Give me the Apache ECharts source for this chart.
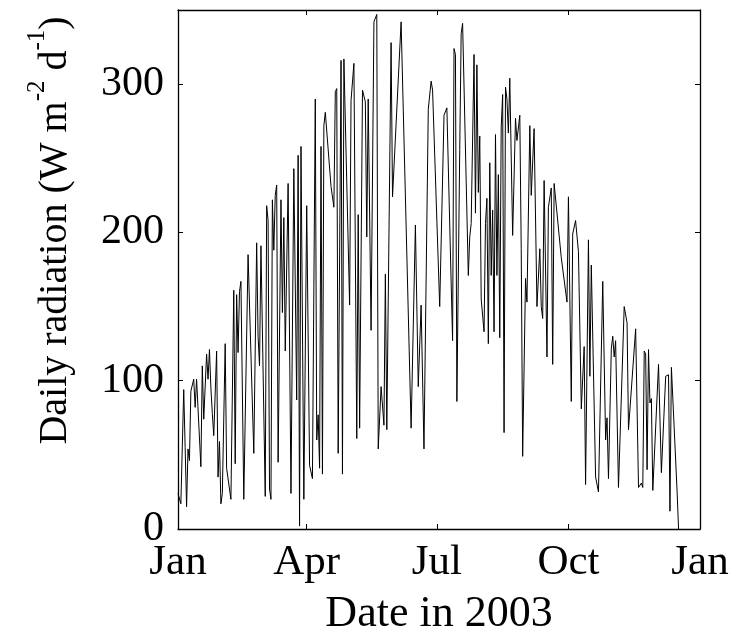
<!DOCTYPE html>
<html>
<head>
<meta charset="utf-8">
<title>Daily radiation 2003</title>
<script src="https://cdn.jsdelivr.net/npm/echarts@6/dist/echarts.min.js"></script>
<style>
  html, body { margin: 0; padding: 0; background: #fff; }
  #chart { width: 740px; height: 632px; }
</style>
</head>
<body>
<div id="chart"></div>
<script>
// day of year (0 = 1 Jan 2003)
const days = [
  0, 2, 4, 5, 6, 7, 8, 9, 11, 12, 13, 14, 16, 17, 18, 20, 21, 22, 23, 24, 25, 27, 28, 29, 30, 31, 33, 34, 37, 39,
  40, 41, 42, 43, 44, 46, 49, 53, 55, 56, 57, 58, 59, 61, 62, 63, 64, 65, 66, 67, 68, 69, 70, 72, 73, 74, 75, 77, 79, 81,
  83, 84, 85, 86, 88, 90, 92, 94, 96, 97, 98, 99, 100, 101, 102, 103, 107, 109, 110, 111, 112, 114, 115, 116, 120, 121, 123, 125, 126, 127,
  129, 131, 132, 133, 135, 137, 139, 140, 142, 144, 145, 146, 149, 150, 156, 163, 166, 168, 170, 172, 175, 177, 178, 183, 186, 188, 192, 193, 194, 195,
  197, 198, 199, 203, 204, 205, 207, 208, 209, 210, 211, 212, 214, 215, 216, 217, 218, 219, 220, 221, 222, 223, 224, 225, 226, 227, 228, 229, 230, 231,
  232, 234, 236, 237, 239, 240, 241, 243, 244, 246, 247, 249, 251, 253, 254, 255, 256, 258, 259, 261, 262, 263, 268, 272, 273, 275, 276, 278, 280, 282,
  284, 285, 287, 288, 289, 292, 294, 297, 299, 300, 301, 303, 304, 305, 306, 308, 312, 314, 315, 316, 320, 322, 324, 325, 326, 327, 328, 329, 330, 331,
  332, 336, 338, 341, 343, 344, 345, 349, 350
];

// daily radiation (W m-2 d-1)
const radiation = [
  24, 17, 94, 55, 15, 54, 46, 93, 101, 82, 101, 100, 42, 110, 74, 118, 101, 121, 95, 78, 63, 120, 35, 59, 17, 24, 125, 41, 20, 161,
  44, 158, 119, 160, 167, 20, 185, 51, 193, 130, 110, 191, 191, 22, 218, 208, 27, 20, 222, 188, 225, 232, 45, 222, 146, 210, 120, 233, 24, 243,
  87, 252, 2, 258, 20, 218, 43, 34, 290, 60, 77, 41, 258, 37, 272, 281, 231, 217, 295, 297, 51, 316, 37, 317, 151, 289, 314, 61, 212, 68,
  296, 288, 197, 290, 134, 342, 347, 54, 96, 70, 172, 67, 328, 224, 342, 68, 205, 96, 151, 54, 283, 302, 296, 150, 279, 284, 127, 324, 320, 86,
  256, 334, 341, 171, 197, 206, 320, 213, 313, 227, 265, 155, 133, 206, 223, 125, 247, 171, 215, 133, 266, 171, 239, 129, 271, 293, 65, 298, 290, 267,
  304, 198, 277, 262, 279, 189, 49, 169, 153, 272, 225, 270, 150, 189, 150, 142, 235, 116, 217, 230, 111, 233, 183, 153, 224, 86, 199, 208, 187, 81,
  123, 30, 195, 103, 178, 35, 25, 167, 60, 75, 34, 122, 130, 116, 127, 28, 150, 139, 67, 68, 135, 28, 31, 28, 120, 118, 40, 121, 85, 88,
  26, 111, 38, 103, 104, 12, 109, 25, 0
];

// month ticks (day of year) and their labels
const monthTicks = [0, 90, 181, 273, 365];
const monthLabels = ['Jan', 'Apr', 'Jul', 'Oct', 'Jan'];
const yTicks = [0, 100, 200, 300];

const FONT = "'Liberation Serif', 'Times New Roman', serif";

const chart = echarts.init(document.getElementById('chart'));

const axisLine = { show: true, onZero: false, lineStyle: { color: '#000', width: 1.3 } };
const tickStyle = { lineStyle: { color: '#000', width: 1 } };

const option = {
  animation: false,
  backgroundColor: '#fff',
  grid: { left: 178, right: 40, top: 10, bottom: 103, containLabel: false, outerBoundsMode: 'none' },
  xAxis: [
    {
      type: 'value',
      min: 0,
      max: 365,
      position: 'bottom',
      axisLine: axisLine,
      splitLine: { show: false },
      axisTick: Object.assign({ inside: true, length: 5, customValues: monthTicks }, tickStyle),
      axisLabel: {
        customValues: monthTicks,
        formatter: function (v) {
          return monthLabels[monthTicks.indexOf(v)];
        },
        margin: 12,
        color: '#000',
        fontSize: 43,
        fontFamily: FONT
      },
      name: 'Date in 2003',
      nameLocation: 'middle',
      nameGap: 63,
      nameTextStyle: { color: '#000', fontSize: 44, fontFamily: FONT }
    },
    {
      type: 'value',
      min: 0,
      max: 365,
      position: 'top',
      axisLine: axisLine,
      splitLine: { show: false },
      axisTick: Object.assign({ inside: true, length: 5, customValues: monthTicks }, tickStyle),
      axisLabel: { show: false }
    }
  ],
  yAxis: [
    {
      type: 'value',
      min: 0,
      max: 350,
      position: 'left',
      axisLine: axisLine,
      splitLine: { show: false },
      axisTick: Object.assign({ inside: true, length: 5, customValues: yTicks }, tickStyle),
      axisLabel: {
        customValues: yTicks,
        margin: 14,
        color: '#000',
        fontSize: 42,
        fontFamily: FONT
      },
      name: '{a|Daily radiation (W m}{s|-2}{a| d}{s|-1}{a|)}',
      nameLocation: 'middle',
      nameRotate: 90,
      nameGap: 93,
      nameTextStyle: {
        padding: [0, 0, 0, 78],
        rich: {
          a: { fontSize: 40, fontFamily: FONT, color: '#000', lineHeight: 60 },
          s: { fontSize: 25, fontFamily: FONT, color: '#000', verticalAlign: 'top', lineHeight: 25 }
        }
      }
    },
    {
      type: 'value',
      min: 0,
      max: 350,
      position: 'right',
      axisLine: axisLine,
      splitLine: { show: false },
      axisTick: Object.assign({ inside: true, length: 5, customValues: yTicks }, tickStyle),
      axisLabel: { show: false }
    }
  ],
  series: [
    {
      type: 'line',
      data: days.map((d, i) => [d, radiation[i]]),
      showSymbol: false,
      symbol: 'none',
      lineStyle: { color: '#000', width: 1 },
      silent: true
    }
  ]
};

chart.setOption(option);
</script>
</body>
</html>
